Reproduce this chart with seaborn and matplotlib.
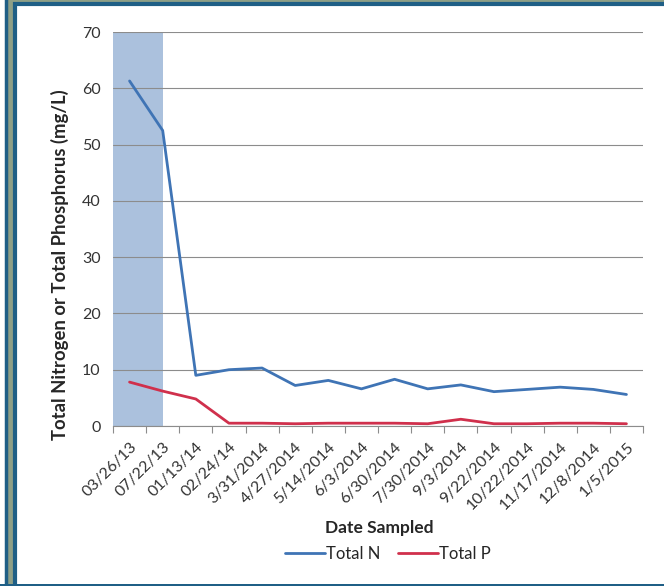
import numpy as np
import pandas as pd
import matplotlib
matplotlib.use('Agg')
import matplotlib.pyplot as plt
from matplotlib.patches import Rectangle
import seaborn as sns

dates = ['03/26/13', '07/22/13', '01/13/14', '02/24/14', '3/31/2014', '4/27/2014',
         '5/14/2014', '6/3/2014', '6/30/2014', '7/30/2014', '9/3/2014', '9/22/2014',
         '10/22/2014', '11/17/2014', '12/8/2014', '1/5/2015']
total_n = [61.3, 52.5, 9.0, 10.0, 10.3, 7.2, 8.1, 6.6, 8.3, 6.6, 7.3, 6.1, 6.5, 6.9, 6.5, 5.6]
total_p = [7.8, 6.2, 4.8, 0.5, 0.5, 0.4, 0.5, 0.5, 0.5, 0.4, 1.2, 0.4, 0.4, 0.5, 0.5, 0.4]

df = pd.DataFrame({'date': dates * 2,
                   'value': total_n + total_p,
                   'series': ['Total N'] * len(dates) + ['Total P'] * len(dates)})
df['x'] = list(range(len(dates))) * 2

sns.set_theme(style='white')
plt.rcParams['font.family'] = ['Lato', 'DejaVu Sans']
plt.rcParams['text.color'] = '#262626'

W, H = 664, 586
fig = plt.figure(figsize=(W / 100, H / 100), dpi=100)
fig.patch.set_facecolor('#8e9f86')

teal = '#1f5f86'
# framing panels (left neighbour + main panel)
fig.patches.append(Rectangle((-20 / W, -0.1), 26 / W, 1.2, transform=fig.transFigure,
                             facecolor='white', edgecolor=teal, linewidth=2.5, zorder=-5))
fig.patches.append(Rectangle((15 / W, -0.1), 1.0, 1.0 + 0.1 - 4.5 / H, transform=fig.transFigure,
                             facecolor='white', edgecolor=teal, linewidth=3, zorder=-5))
fig.patches.append(Rectangle((0, 0), 1, 2.5 / H, transform=fig.transFigure,
                             facecolor=teal, edgecolor='none', zorder=-4))

ax = fig.add_axes([113 / W, 1 - 426 / H, 530 / W, 394 / H])
ax.set_zorder(2)
ax.set_facecolor('none')

palette = {'Total N': '#3f74b5', 'Total P': '#d0304c'}
sns.lineplot(data=df, x='x', y='value', hue='series', palette=palette, linewidth=2,
             ax=ax, legend=False)

ax.axvspan(-0.5, 1.0, color='#9db6d8', alpha=0.85, zorder=0, linewidth=0)

ax.set_xlim(-0.5, len(dates) - 0.5)
ax.set_ylim(0, 70)
ax.set_yticks(range(0, 71, 10))
ax.yaxis.grid(True, color='#8c8c8c', linewidth=0.8)
ax.set_axisbelow(True)
for s in ['top', 'right', 'left']:
    ax.spines[s].set_visible(False)
ax.spines['bottom'].set_color('#8c8c8c')
ax.spines['bottom'].set_linewidth(0.8)

ax.set_xticks(range(len(dates)))
ax.set_xticklabels(dates, rotation=45, ha='right', rotation_mode='anchor', fontsize=11.5,
                   color='#333333')
ax.set_xticks(np.arange(-0.5, len(dates), 1), minor=True)
ax.tick_params(axis='x', which='major', length=0, pad=10)
ax.tick_params(axis='x', which='minor', length=5, color='#8c8c8c', width=0.8, bottom=True)
ax.tick_params(axis='y', length=0, labelsize=11.5, pad=9, labelcolor='#333333')

ax.set_xlabel('')
ax.set_ylabel('Total Nitrogen or Total Phosphorus (mg/L)', fontsize=13.3,
              fontweight='bold')
ax.yaxis.set_label_coords(-0.083, 0.41)

fig.text(379 / W, 1 - 528 / H, 'Date Sampled', ha='center', va='center',
         fontsize=12.5, fontweight='bold', zorder=3)

handles = [plt.Line2D([], [], color=palette[k], linewidth=2) for k in palette]
leg = fig.legend(handles, list(palette), loc='center', bbox_to_anchor=(388 / W, 1 - 554 / H),
                 ncol=2, frameon=False, fontsize=12, handlelength=2.4, handletextpad=0.05,
                 columnspacing=1.1)
leg.set_zorder(3)

fig.savefig('out.png', dpi=100, facecolor=fig.get_facecolor())
